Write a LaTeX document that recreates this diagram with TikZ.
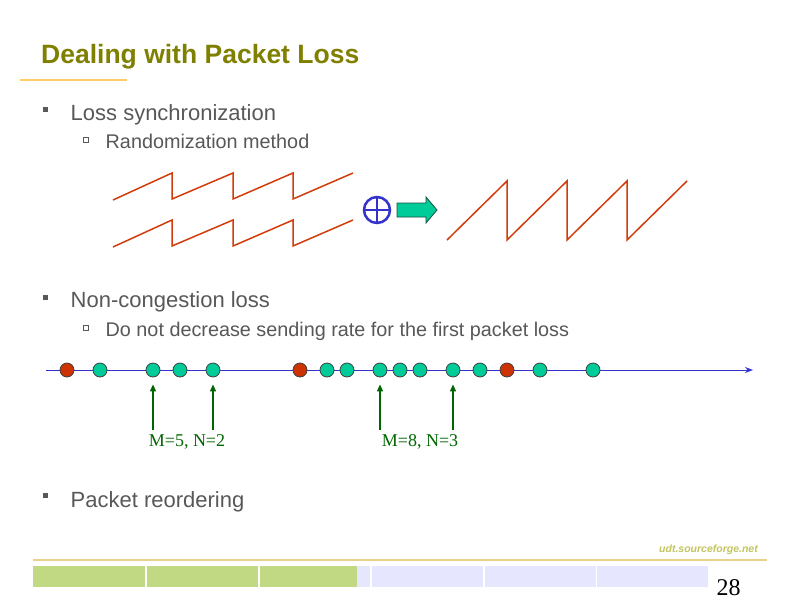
\documentclass[tikz,border=0pt]{standalone}
\usepackage{fontspec}
\setmainfont{Liberation Sans}
\newfontfamily\seriffont{Liberation Serif}
\usetikzlibrary{arrows.meta}
\definecolor{titleolive}{RGB}{128,128,0}
\definecolor{txtgray}{RGB}{88,88,88}
\definecolor{saw}{RGB}{210,60,10}
\definecolor{lineblue}{RGB}{51,51,204}
\definecolor{pktgreen}{RGB}{0,204,153}
\definecolor{pktred}{RGB}{204,51,0}
\definecolor{lblgreen}{RGB}{0,102,0}
\definecolor{barGreen}{RGB}{192,217,130}
\definecolor{barLav}{RGB}{230,230,255}
\definecolor{footline}{RGB}{233,210,140}
\definecolor{urlcol}{RGB}{196,196,96}
\definecolor{ulorange}{RGB}{255,204,102}
\definecolor{arrowgreen}{RGB}{0,204,153}
\definecolor{arrowedge}{RGB}{20,80,60}
\tikzset{
  txt/.style={anchor=base west, inner sep=0pt, text=txtgray},
  lvlone/.style={txt, font=\fontsize{22}{26}\selectfont},
  lvltwo/.style={txt, font=\fontsize{19.8}{23}\selectfont},
  bulone/.style={fill=txtgray, minimum size=5pt, inner sep=0pt, draw=none},
  bultwo/.style={draw=txtgray, line width=0.7pt, minimum size=5pt, inner sep=0pt, fill=white},
  sawline/.style={draw=saw, line width=1.5pt, line join=miter},
  pkt/.style={circle, draw=black!75, line width=0.8pt, minimum size=14pt, inner sep=0pt},
  pktg/.style={pkt, fill=pktgreen},
  pktr/.style={pkt, fill=pktred},
  uparrow/.style={draw=lblgreen, line width=1.3pt, -{Triangle[length=7pt,width=6pt]}},
  mlabel/.style={anchor=base, inner sep=0pt, text=lblgreen, font=\seriffont\fontsize{18}{20}\selectfont},
  bar/.style={inner sep=0pt, draw=none}
}
\begin{document}
\begin{tikzpicture}[x=1pt,y=-1pt]
\useasboundingbox (0,0) rectangle (800,600);
\fill[white] (0,0) rectangle (800,600);
% title
\node[anchor=base west, inner sep=0pt, text=titleolive, font=\fontsize{26.5}{30}\selectfont\bfseries] (title) at (41,63) {Dealing with Packet Loss};
\draw[ulorange, line width=2pt] (20,80) -- (127,80);
% bullets
\node[bulone] (b1) at (45.5,109.5) {};
\node[lvlone] (t1) at (70.5,120) {Loss synchronization};
\node[bultwo] (b2) at (85.5,139.5) {};
\node[lvltwo] (t2) at (105.5,148) {Randomization method};
\node[bulone] (b3) at (45.5,297.5) {};
\node[lvlone] (t3) at (70.5,307) {Non-congestion loss};
\node[bultwo] (b4) at (85.5,327.5) {};
\node[lvltwo] (t4) at (105.5,336) {Do not decrease sending rate for the first packet loss};
\node[bulone] (b5) at (45.5,495) {};
\node[lvlone] (t5) at (70.5,507) {Packet reordering};
% sawtooth waves
\draw[sawline] (113,200) -- (172,173) -- (172,199) -- (233,173) -- (233,199) -- (293,173) -- (293,199) -- (353,173);
\draw[sawline] (113,247) -- (172,220) -- (172,246) -- (233,220) -- (233,246) -- (293,220) -- (293,246) -- (353,220);
\draw[sawline] (447,240) -- (507,181) -- (507,240) -- (567,181) -- (567,240) -- (627,181) -- (627,240) -- (687,181);
% plus
\node[circle, draw=lineblue, line width=2.5pt, minimum size=26pt, inner sep=0pt, outer sep=0pt] (plus) at (377,210) {};
\draw[lineblue, line width=2.5pt] (plus.north) -- (plus.south);
\draw[lineblue, line width=2.5pt] (plus.west) -- (plus.east);
% green arrow
\filldraw[fill=arrowgreen, draw=arrowedge, line width=0.8pt, line join=miter]
  (397,203) -- (426,203) -- (426,197) -- (437,210) -- (426,223) -- (426,217) -- (397,217) -- cycle;
% timeline
\coordinate (tl0) at (46,370);
\coordinate (tl1) at (753,370);
\draw[lineblue, line width=1pt, -{Stealth[length=8pt,width=6pt]}] (tl0) -- (tl1);
\node[pktr] (p1) at (67,370) {};
\node[pktg] (p2) at (100,370) {};
\node[pktg] (p3) at (153,370) {};
\node[pktg] (p4) at (180,370) {};
\node[pktg] (p5) at (213,370) {};
\node[pktr] (p6) at (300,370) {};
\node[pktg] (p7) at (327,370) {};
\node[pktg] (p8) at (347,370) {};
\node[pktg] (p9) at (380,370) {};
\node[pktg] (p10) at (400,370) {};
\node[pktg] (p11) at (420,370) {};
\node[pktg] (p12) at (453,370) {};
\node[pktg] (p13) at (480,370) {};
\node[pktr] (p14) at (507,370) {};
\node[pktg] (p15) at (540,370) {};
\node[pktg] (p16) at (593,370) {};
% arrows and labels
\coordinate (a1) at (153,430);
\coordinate (a2) at (213,430);
\coordinate (a3) at (380,430);
\coordinate (a4) at (453,430);
\draw[uparrow, shorten >=7pt] (a1) -- (p3.south);
\draw[uparrow, shorten >=7pt] (a2) -- (p5.south);
\draw[uparrow, shorten >=7pt] (a3) -- (p9.south);
\draw[uparrow, shorten >=7pt] (a4) -- (p12.south);
\node[mlabel] (l1) at (187,446) {M=5, N=2};
\node[mlabel] (l2) at (420,446) {M=8, N=3};
% footer
\node[anchor=base east, inner sep=0pt, text=urlcol, font=\fontsize{10.5}{12}\selectfont\bfseries\itshape] (url) at (758,552) {udt.sourceforge.net};
\draw[footline, line width=2pt] (33,560) -- (767,560);
\fill[barGreen] (33,566) rectangle (145,587);
\fill[barGreen] (147,566) rectangle (258,587);
\fill[barGreen] (260,566) rectangle (357,587);
\fill[barLav] (357,566) rectangle (370,587);
\fill[barLav] (372,566) rectangle (483,587);
\fill[barLav] (485,566) rectangle (596,587);
\fill[barLav] (597,566) rectangle (708,587);
\node[anchor=base west, inner sep=0pt, font=\seriffont\fontsize{24}{26}\selectfont] (pg) at (716.5,595.5) {28};
\end{tikzpicture}
\end{document}
